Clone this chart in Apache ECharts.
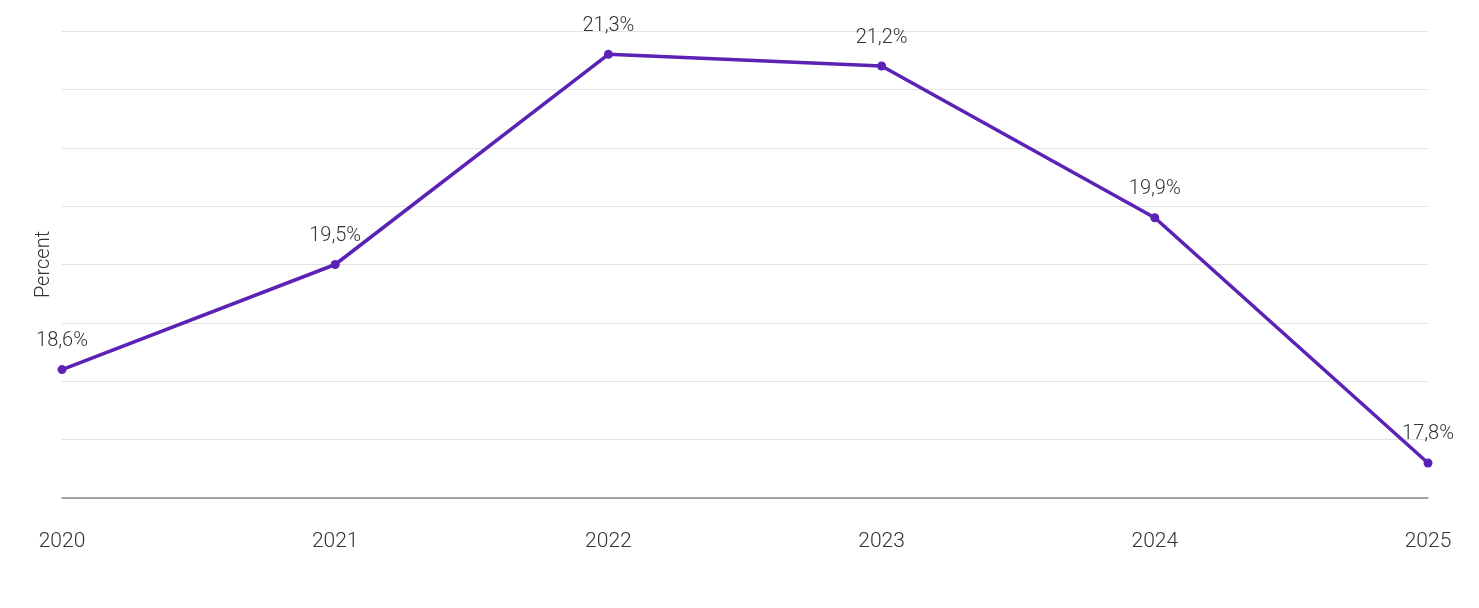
<!DOCTYPE html>
<html>
<head>
<meta charset="utf-8">
<script src="https://cdn.jsdelivr.net/npm/echarts@6/dist/echarts.min.js"></script>
<style>
html,body{margin:0;padding:0;background:#fff;}
#chart{width:1479px;height:608px;}
</style>
</head>
<body>
<div id="chart"></div>
<script>
const categories = ['2020', '2021', '2022', '2023', '2024', '2025'];
const values = [18.6, 19.5, 21.3, 21.2, 19.9, 17.8];
const yAxisName = 'Percent';

const chart = echarts.init(document.getElementById('chart'));
chart.setOption({
  animation: false,
  grid: { left: 62, right: 51, top: 31, bottom: 110, containLabel: false },
  xAxis: {
    type: 'category',
    data: categories,
    boundaryGap: false,
    axisLine: { show: true, lineStyle: { color: '#8a8a8a', width: 1.5 } },
    axisTick: { show: false },
    axisLabel: { color: '#333', fontFamily: 'Roboto', fontWeight: 300, fontSize: 21, margin: 33 }
  },
  yAxis: {
    type: 'value',
    min: 17.5,
    max: 21.5,
    interval: 0.5,
    name: yAxisName,
    nameLocation: 'middle',
    nameGap: 8,
    nameTextStyle: { color: '#333', fontFamily: 'Roboto', fontWeight: 300, fontSize: 20 },
    axisLabel: { show: false },
    axisLine: { show: false },
    axisTick: { show: false },
    splitLine: { lineStyle: { color: '#e3e3e3', width: 1 } }
  },
  series: [{
    type: 'line',
    data: values,
    symbol: 'circle',
    symbolSize: 9,
    lineStyle: { color: '#5b22b5', width: 3.5 },
    itemStyle: { color: '#5b22b5' },
    label: {
      show: true,
      position: 'top',
      distance: 14,
      color: '#333',
      fontFamily: 'Roboto',
      fontWeight: 300,
      fontSize: 20,
      formatter: p => String(p.value).replace('.', ',') + '%'
    }
  }]
});
</script>
</body>
</html>
